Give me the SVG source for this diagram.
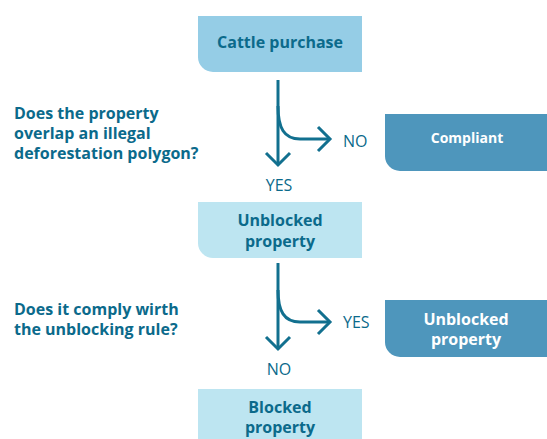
<svg xmlns="http://www.w3.org/2000/svg" width="547" height="439" viewBox="0 0 547 439">
<style>
.q{font-family:"Open Sans","Liberation Sans",sans-serif;font-weight:700;font-size:16px;fill:#0b6a8b}
.bt{font-family:"Open Sans","Liberation Sans",sans-serif;font-weight:700;font-size:16px;text-anchor:middle}
.dk{fill:#0b6a8b}
.wt{fill:#ffffff}
.lb{font-family:"Open Sans","Liberation Sans",sans-serif;font-size:16px;fill:#0b6a8b}
.ln{fill:none;stroke:#12708f;stroke-width:3;stroke-linecap:butt;stroke-linejoin:miter}
</style>
<rect width="547" height="439" fill="#ffffff"/>
<g id="cattle-purchase">
<path d="M198 16 H362 V72 H213 A15 15 0 0 1 198 57 Z" fill="#95cde6"/>
<text class="bt dk" x="280" y="48">Cattle purchase</text>
</g>
<g id="question-1">
<text class="q" x="14" y="118.5">Does the property</text>
<text class="q" x="14" y="138.5">overlap an illegal</text>
<text class="q" x="14" y="158.5">deforestation polygon?</text>
</g>
<g id="compliant">
<path d="M385 114 H547 V171 H400 A15 15 0 0 1 385 156 Z" fill="#4e96bc"/>
<text class="bt wt" x="467" y="143" style="font-size:14px">Compliant</text>
</g>
<g id="unblocked-property">
<path d="M198 202 H362 V258 H213 A15 15 0 0 1 198 243 Z" fill="#bde5f1"/>
<text class="bt dk" x="280" y="226">Unblocked</text>
<text class="bt dk" x="280" y="247">property</text>
</g>
<g id="question-2">
<text class="q" x="14" y="315">Does it comply wirth</text>
<text class="q" x="14" y="335">the unblocking rule?</text>
</g>
<g id="unblocked-property-2">
<path d="M385 300 H547 V357 H400 A15 15 0 0 1 385 342 Z" fill="#4e96bc"/>
<text class="bt wt" x="466" y="325">Unblocked</text>
<text class="bt wt" x="466" y="345">property</text>
</g>
<g id="blocked-property">
<path d="M198 389 H362 V450 H198 Z" fill="#bde5f1"/>
<text class="bt dk" x="280" y="413">Blocked</text>
<text class="bt dk" x="280" y="433">property</text>
</g>
<g id="connectors">
<path class="ln" d="M278 80 V165"/>
<path class="ln" d="M278 106 C278 128 284 139 300 139 H330"/>
<path class="ln" d="M318 127 L330 139 L318 151"/>
<path class="ln" d="M266 153 L278 165 L290 153"/>
<text class="lb" x="343" y="147">NO</text>
<text class="lb" x="279" y="191" text-anchor="middle">YES</text>
<path class="ln" d="M278 263 V349"/>
<path class="ln" d="M278 290 C278 311 284 322 300 322 H330"/>
<path class="ln" d="M318 310 L330 322 L318 334"/>
<path class="ln" d="M266 337 L278 349 L290 337"/>
<text class="lb" x="343" y="328">YES</text>
<text class="lb" x="279" y="375" text-anchor="middle">NO</text>
</g>
</svg>
